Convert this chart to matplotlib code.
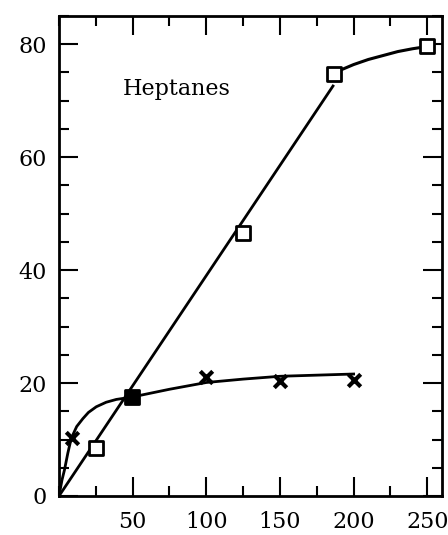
import matplotlib.pyplot as plt
from matplotlib.ticker import MultipleLocator

plt.rcParams['font.family'] = ['DejaVu Serif']

# measured points
sq_x = [25, 125, 187, 250]
sq_y = [8.5, 46.5, 74.8, 79.6]
filled_x = [49.5]
filled_y = [17.5]
cross_x = [9, 100, 150, 200]
cross_y = [10.2, 21.1, 20.3, 20.6]

# hand-drawn curves through the points
line_x = [0, 186]
line_y = [0, 72.6]
top_x = [190, 200, 210, 220, 230, 240, 250]
top_y = [75.3, 76.4, 77.3, 78.0, 78.7, 79.2, 79.6]
sat_x = [0, 2, 3.7, 6, 8.3, 12, 16.2, 20, 25.3, 32, 38.9, 49.1, 75, 100, 125, 150, 175, 200]
sat_y = [0, 2.8, 4.6, 7.6, 10.2, 12.3, 13.7, 14.8, 15.8, 16.6, 17.1, 17.5, 18.9, 20.1, 20.7, 21.2, 21.4, 21.6]

fig = plt.figure(figsize=(4.48, 5.35), dpi=100)
ax = fig.add_axes([0.1317, 0.0729, 0.8549, 0.8972])

ax.plot(line_x, line_y, c='k', lw=2)
ax.plot(top_x, top_y, c='k', lw=2.2)
ax.plot(sat_x, sat_y, c='k', lw=2)

ax.scatter(sq_x, sq_y, marker='s', s=110, facecolors='white', edgecolors='k', linewidths=2, zorder=3)
ax.scatter(filled_x, filled_y, marker='s', s=110, facecolors='k', edgecolors='k', linewidths=2, zorder=3)
ax.scatter(cross_x, cross_y, marker='x', s=80, c='k', linewidths=3, zorder=3)

ax.text(43, 72, 'Heptanes', fontsize=16, ha='left', va='center')

ax.set_xlim(0, 260)
ax.set_ylim(0, 85)
ax.xaxis.set_major_locator(MultipleLocator(50))
ax.xaxis.set_minor_locator(MultipleLocator(25))
ax.yaxis.set_major_locator(MultipleLocator(20))
ax.yaxis.set_minor_locator(MultipleLocator(5))
ax.set_xticks([50, 100, 150, 200, 250])
ax.tick_params(which='both', direction='in', top=True, right=True, width=1.5, labelsize=16)
ax.tick_params(which='major', length=14)
ax.tick_params(which='minor', length=7)
ax.tick_params(axis='x', pad=11)
ax.tick_params(axis='y', pad=9)
for s in ax.spines.values():
    s.set_linewidth(2)

plt.savefig('out.png')
